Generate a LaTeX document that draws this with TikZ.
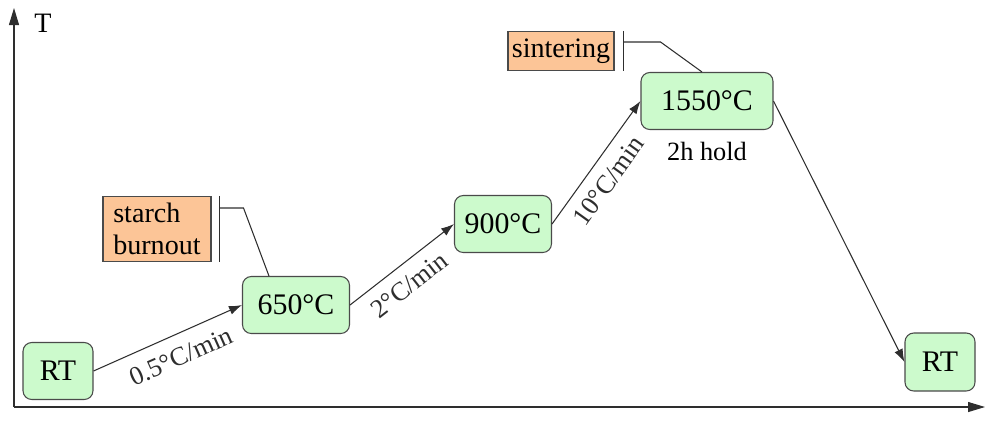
\documentclass[tikz,border=0pt]{standalone}
\usepackage{fontspec}
\setmainfont{Liberation Serif}
\usepackage{tikz}
\usetikzlibrary{arrows.meta, positioning, calc}
\definecolor{verdeTemp}{HTML}{CCFACC}
\definecolor{naranjaEtapa}{HTML}{FCC597}
\definecolor{bordeGris}{HTML}{4A4A4A}
\definecolor{lineaGris}{HTML}{2E2E2E}

\begin{document}
\begin{tikzpicture}[
        x=0.02cm, y=-0.02cm,
        temp/.style={draw=bordeGris, fill=verdeTemp, semithick, rounded corners=5pt,
            minimum height=1.14cm, inner sep=2pt, font=\fontsize{17}{20}\selectfont},
        etapa/.style={draw=bordeGris, fill=naranjaEtapa, semithick, inner sep=2pt,
            align=left, font=\fontsize{16}{18}\selectfont},
        rampa/.style={-{Latex[length=2.6mm, width=1.8mm]}, lineaGris, semithick},
        tasa/.style={sloped, font=\fontsize{15}{17}\selectfont},
        callout/.style={draw=lineaGris, semithick},
        eje/.style={-{Triangle[length=3.4mm, width=2mm]}, lineaGris, semithick}
    ]
        \useasboundingbox (0,0) rectangle (987,434);

        % ejes
        \coordinate (origen) at (14,407);
        \coordinate (ejeT) at (14,8);
        \coordinate (ejet) at (985,407);
        \draw[eje] (origen) -- (ejeT);
        \draw[eje] (origen) -- (ejet);
        \node[font=\fontsize{16}{18}\selectfont] (labT) at (43,23) {T};

        % temperaturas
        \node[temp, minimum width=1.4cm] (rtA) at (58,371) {RT};
        \node[temp, minimum width=2.14cm] (c650) at (296,305) {650°C};
        \node[temp, minimum width=1.94cm] (c900) at (503,224) {900°C};
        \node[temp, minimum width=2.64cm] (c1550) at (707,101) {1550°C};
        \node[temp, minimum width=1.4cm, minimum height=1.16cm] (rtB) at (940,362) {RT};
        \node[font=\fontsize{15}{17}\selectfont, below=0.12cm of c1550] (hold) {2h hold};

        % etapas
        \node[etapa, minimum width=2.16cm, minimum height=1.3cm] (burn) at (157,229) {starch\\burnout};
        \node[etapa, minimum width=2.12cm, minimum height=0.78cm] (sint) at (561,51) {sintering};

        % rampas
        \draw[rampa] (rtA.east) -- node[tasa, pos=0.53, below=4pt] (r1) {0.5°C/min} (c650.west);
        \draw[rampa] (c650.east) -- node[tasa, pos=0.45, below=3pt] (r2) {2°C/min} (c900.west);
        \draw[rampa] (c900.east) -- node[tasa, pos=0.45, below=3pt] (r3) {10°C/min} (c1550.west);
        \draw[rampa] (c1550.east) -- (rtB.west);

        % llamadas
        \draw[callout] ([xshift=1.6mm]burn.north east) -- ([xshift=1.6mm]burn.south east);
        \draw[callout] ([xshift=1.6mm, yshift=-2.4mm]burn.north east) -- ++(24,0)
            -- ([xshift=5.4mm]c650.north west);
        \draw[callout] ([xshift=1.8mm]sint.north east) -- ([xshift=1.8mm]sint.south east);
        \draw[callout] ([xshift=1.8mm, yshift=-2.2mm]sint.north east) -- ++(37,0)
            -- ([xshift=-1mm]c1550.north);
    \end{tikzpicture}
\end{document}
